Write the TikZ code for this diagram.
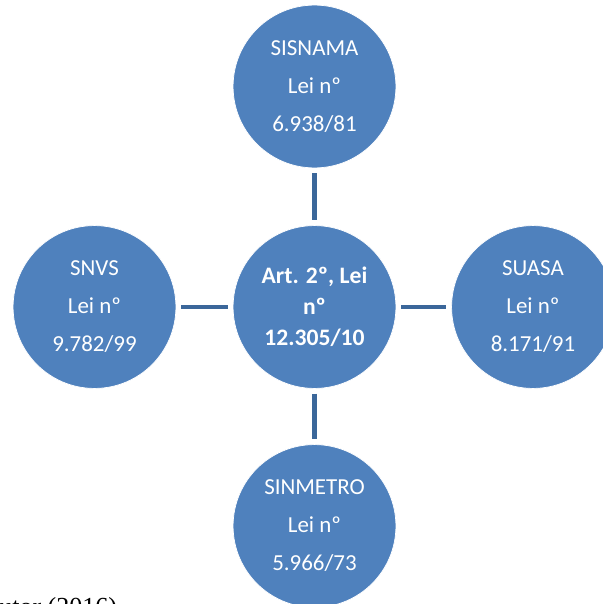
\documentclass[tikz,border=0pt]{standalone}
\usepackage{fontspec}
\setmainfont{Carlito}
\newfontfamily\capfont{Liberation Serif}
\definecolor{circblue}{HTML}{4F81BD}
\definecolor{linkblue}{HTML}{3B679A}

\begin{document}
\begin{tikzpicture}[x=0.025cm, y=-0.025cm,
  lei/.style={circle, fill=circblue, draw=white, line width=0.5pt,
    minimum size=4.07cm, inner sep=0pt, text=white, align=center,
    font=\fontsize{16.3}{27}\selectfont},
  link/.style={draw=linkblue, line width=3.5pt,
    shorten <=0.12cm, shorten >=0.12cm}]
\useasboundingbox (0,0) rectangle (603,604);
\clip (0,0) rectangle (603,604);
% centre
\node[lei, font=\bfseries\fontsize{16.8}{22}\selectfont] (art) at (314.5,307)
  {Art. 2º, Lei\\ nº\\ 12.305/10};
% the four systems
\node[lei] (sisnama)  at (314.5,86.5) {SISNAMA\\ Lei nº\\ 6.938/81};
\node[lei] (snvs)     at (94.5,307)   {SNVS\\ Lei nº\\ 9.782/99};
\node[lei] (suasa)    at (533,307)    {SUASA\\ Lei nº\\ 8.171/91};
\node[lei] (sinmetro) at (314.5,526)  {SINMETRO\\ Lei nº\\ 5.966/73};
\draw[link] (sisnama) -- (art);
\draw[link] (snvs) -- (art);
\draw[link] (art) -- (suasa);
\draw[link] (art) -- (sinmetro);
% source line, cut by the page
\node[anchor=base west, inner sep=0pt, font=\capfont\fontsize{18.5}{20}\selectfont]
  (fonte) at (-1,615) {utor (2016)};
\end{tikzpicture}
\end{document}
